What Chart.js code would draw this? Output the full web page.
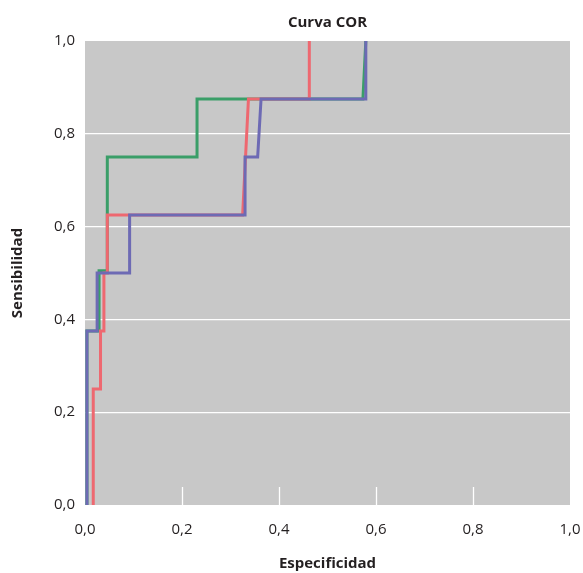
<!DOCTYPE html>
<html>
<head>
<meta charset="utf-8">
<script src="https://cdn.jsdelivr.net/npm/chart.js@4/dist/chart.umd.min.js"></script>
<style>
  html, body { margin: 0; padding: 0; background: #ffffff; }
  #wrap { width: 583px; height: 573px; }
</style>
</head>
<body>
<div id="wrap"><canvas id="c" width="583" height="573"></canvas></div>
<script>
// ---- Data ----
const titleText = 'Curva COR';
const xTitle = 'Especificidad';
const yTitle = 'Sensibilidad';

const xTickLabels = ['0,0', '0,2', '0,4', '0,6', '0,8', '1,0'];
const yTickLabels = ['0,0', '0,2', '0,4', '0,6', '0,8', '1,0'];

// Blue curve
const blueX = [0.004, 0.004, 0.025, 0.025, 0.092, 0.092, 0.330, 0.330, 0.356, 0.363, 0.579, 0.579];
const blueY = [0.000, 0.375, 0.375, 0.500, 0.500, 0.625, 0.625, 0.750, 0.750, 0.875, 0.875, 1.000];

// Red curve
const redX = [0.017, 0.017, 0.032, 0.032, 0.039, 0.039, 0.046, 0.046, 0.325, 0.337, 0.4625, 0.4625];
const redY = [0.000, 0.250, 0.250, 0.375, 0.375, 0.500, 0.500, 0.625, 0.625, 0.875, 0.875, 1.000];

// Green curve
const greenX = [0.004, 0.004, 0.029, 0.029, 0.046, 0.046, 0.231, 0.231, 0.573, 0.579];
const greenY = [0.000, 0.375, 0.375, 0.505, 0.505, 0.750, 0.750, 0.875, 0.875, 1.000];

const toPoints = (xs, ys) => xs.map((x, i) => ({ x: x, y: ys[i] }));

const TEXT = '#231f20';
const FONT = '"Open Sans", "Noto Sans", sans-serif';

const bgPlugin = {
  id: 'plotBg',
  beforeDraw(chart) {
    const a = chart.chartArea, ctx = chart.ctx;
    ctx.save();
    ctx.fillStyle = '#c8c8c8';
    ctx.fillRect(a.left, a.top, a.right - a.left, a.bottom - a.top);
    ctx.restore();
  },
  beforeDatasetsDraw(chart) {
    const a = chart.chartArea, ctx = chart.ctx, xs = chart.scales.x;
    ctx.save();
    ctx.strokeStyle = '#ffffff';
    ctx.lineWidth = 1.3;
    xs.ticks.forEach(t => {
      if (t.value <= 0 || t.value >= 1) return;
      const px = Math.round(xs.getPixelForValue(t.value)) + 0.5;
      ctx.beginPath();
      ctx.moveTo(px, a.bottom);
      ctx.lineTo(px, a.bottom - 18);
      ctx.stroke();
    });
    ctx.restore();
  }
};

const lineDs = (label, pts, color) => ({
  label: label,
  data: pts,
  showLine: true,
  borderColor: color,
  backgroundColor: color,
  borderWidth: 3,
  pointRadius: 0,
  pointHoverRadius: 0,
  tension: 0,
  fill: false,
  borderJoinStyle: 'miter',
  borderCapStyle: 'butt'
});

new Chart(document.getElementById('c'), {
  type: 'scatter',
  data: {
    datasets: [
      lineDs('Azul', toPoints(blueX, blueY), '#6d6ab4'),
      lineDs('Rojo', toPoints(redX, redY), '#ee6870'),
      lineDs('Verde', toPoints(greenX, greenY), '#3a9e68')
    ]
  },
  options: {
    responsive: false,
    devicePixelRatio: 1,
    animation: false,
    layout: { padding: { left: 0, right: 13, top: 0, bottom: 0 } },
    plugins: {
      legend: { display: false },
      tooltip: { enabled: false },
      title: {
        display: true,
        text: titleText,
        fullSize: false,
        color: TEXT,
        font: { family: FONT, size: 15, weight: 'bold', lineHeight: 1.2 },
        padding: { top: 13.5, bottom: 9.5 }
      }
    },
    scales: {
      x: {
        type: 'linear',
        min: 0, max: 1,
        ticks: {
          stepSize: 0.2,
          color: TEXT,
          font: { family: FONT, size: 15, lineHeight: 1.2 },
          padding: 16,
          maxRotation: 0,
          callback: (v, i) => xTickLabels[i]
        },
        grid: { display: true, drawOnChartArea: false, drawTicks: false },
        border: { display: false },
        title: {
          display: true,
          text: xTitle,
          color: TEXT,
          font: { family: FONT, size: 15, weight: 'bold', lineHeight: 1.2 },
          padding: { top: 0, bottom: 0 }
        },
        afterFit(scale) { scale.height = 68; scale.paddingLeft = 0; scale.paddingRight = 0; }
      },
      y: {
        type: 'linear',
        min: 0, max: 1,
        ticks: {
          stepSize: 0.2,
          color: TEXT,
          font: { family: FONT, size: 15, lineHeight: 1.2 },
          padding: 10,
          callback: (v, i) => yTickLabels[i]
        },
        grid: {
          drawTicks: false,
          lineWidth: 1.3,
          color: (ctx) => (ctx.tick && (ctx.tick.value <= 0 || ctx.tick.value >= 1)) ? 'rgba(0,0,0,0)' : '#ffffff'
        },
        border: { display: false },
        title: {
          display: true,
          text: yTitle,
          color: TEXT,
          font: { family: FONT, size: 15, weight: 'bold', lineHeight: 1.2 },
          padding: { top: 9, bottom: 0 }
        },
        afterFit(scale) { scale.width = 85; scale.paddingTop = 0; scale.paddingBottom = 0; }
      }
    }
  },
  plugins: [bgPlugin]
});
</script>
</body>
</html>
